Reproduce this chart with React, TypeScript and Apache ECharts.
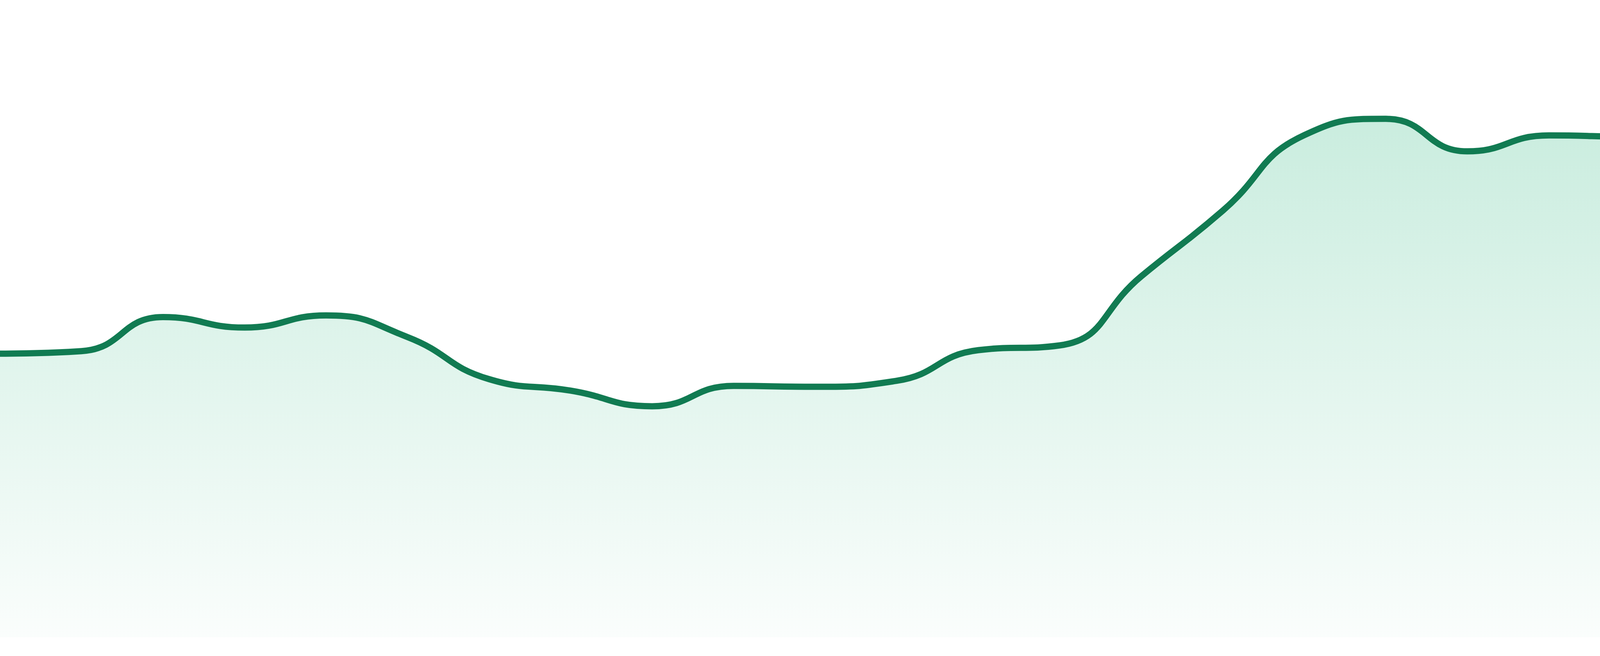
import { useRef, useEffect } from "react";
import * as echarts from "echarts";

// 24 evenly spaced samples
const categories = [
    "P01", "P02", "P03", "P04", "P05", "P06", "P07", "P08",
    "P09", "P10", "P11", "P12", "P13", "P14", "P15", "P16",
    "P17", "P18", "P19", "P20", "P21", "P22", "P23", "P24",
];

const values = [
    44.5, 44.9, 50.25, 48.6, 50.5, 47.1, 40.5, 38.7,
    36.25, 39.45, 39.3, 40.25, 45.05, 45.8, 56.65, 66.95,
    78.8, 81.35, 76.25, 78.75, 78.55, 87.55, 87.1, 80.15,
];

const yMin = 0;
const yMax = 100;

function App() {
    const chartRef = useRef<HTMLDivElement | null>(null);

    useEffect(() => {
        if (!chartRef.current) return;
        const chart = echarts.init(chartRef.current, undefined, { renderer: "svg" });

        chart.setOption({
            animation: false,
            grid: { left: 0, right: 0, top: 0, bottom: 48 },
            xAxis: {
                type: "category",
                data: categories,
                boundaryGap: false,
                show: false,
            },
            yAxis: {
                type: "value",
                min: yMin,
                max: yMax,
                show: false,
            },
            series: [
                {
                    type: "line",
                    data: values,
                    smooth: true,
                    symbol: "none",
                    lineStyle: { color: "#117b52", width: 16 },
                    areaStyle: {
                        color: new echarts.graphic.LinearGradient(0, 0, 0, 1, [
                            { offset: 0, color: "rgba(30,178,118,0.36)" },
                            { offset: 1, color: "rgba(30,178,118,0.03)" },
                        ]),
                    },
                },
            ],
        });

        return () => {
            chart.dispose();
        };
    }, []);

    return (
        <div
            ref={chartRef}
            style={{
                position: "fixed",
                left: 0,
                top: 0,
                width: "4800px",
                height: "1680px",
                background: "#fff",
            }}
        />
    );
}

export default App;
